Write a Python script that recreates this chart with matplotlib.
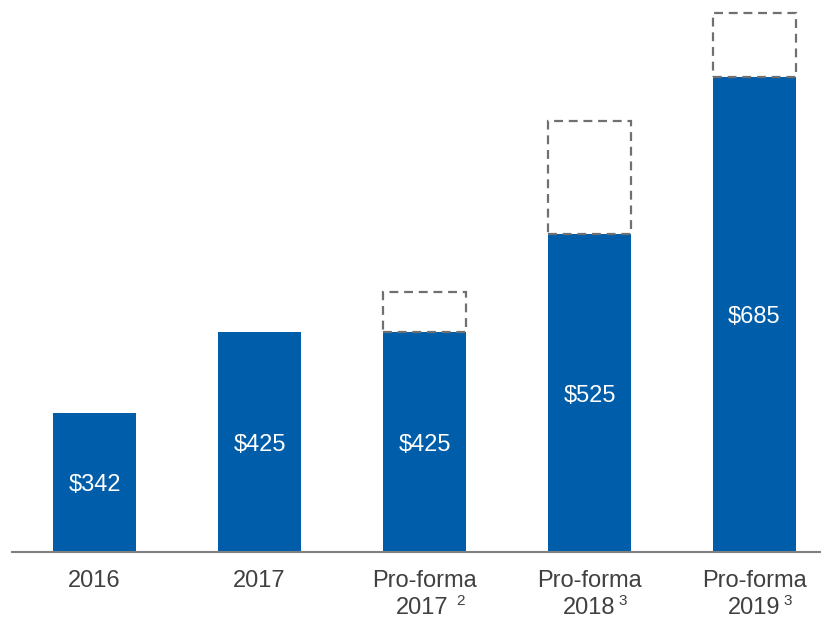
import matplotlib
matplotlib.use("Agg")
import matplotlib.pyplot as plt
import numpy as np

plt.rcParams['font.family'] = ['Liberation Sans', 'DejaVu Sans']

# data
line1 = ["2016", "2017", "Pro-forma", "Pro-forma", "Pro-forma"]
line2 = ["", "", "2017", "2018", "2019"]
notes = ["", "", "2", "3", "3"]
values = [342, 425, 425, 525, 685]
upside = [None, None, 465, 640, 750]

blue = "#005DAA"
grey_text = "#404040"

fig = plt.figure(figsize=(8.21, 6.2), dpi=100)
ax = fig.add_axes([12 / 821, 68 / 620, 809 / 821, 552 / 620])

x = np.arange(len(values))
bars = ax.bar(x, [v - 200 for v in values], bottom=200, width=0.503, color=blue, zorder=2)

# dashed boxes for upside
for i, (v, u) in enumerate(zip(values, upside)):
    if u is None:
        continue
    ax.bar(i, u - v, bottom=v, width=0.503, fill=False, edgecolor="#707070",
           linewidth=1.6, linestyle=(0, (4, 2.6)), zorder=3)

# value labels inside bars
for i, v in enumerate(values):
    ax.annotate(f"${v}", xy=(i, (200 + v) / 2), xytext=(0, -2),
                textcoords='offset points', ha="center", va="center",
                color="white", fontsize=17)

ax.set_xlim(-0.5, 4.403)
ax.set_ylim(200, 200 + 552 / 0.98)

# category labels under the axis
for i in range(len(values)):
    ax.annotate(line1[i], xy=(i, 0), xycoords=('data', 'axes fraction'),
                xytext=(0, -21), textcoords='offset points',
                ha="center", va="center", fontsize=17, color=grey_text)
    if line2[i]:
        dx = -2 if line2[i] == "2017" else 0
        ax.annotate(line2[i], xy=(i, 0), xycoords=('data', 'axes fraction'),
                    xytext=(dx, -40.5), textcoords='offset points',
                    ha="center", va="center", fontsize=17, color=grey_text)
        shift = 22.5 if line2[i] == "2017" else 20.5
        ax.annotate(notes[i], xy=(i, 0), xycoords=('data', 'axes fraction'),
                    xytext=(shift, -35), textcoords='offset points',
                    ha="left", va="center", fontsize=11, color=grey_text)

for s in ["top", "right", "left"]:
    ax.spines[s].set_visible(False)
ax.spines["bottom"].set_color("#808080")
ax.spines["bottom"].set_linewidth(1.5)
ax.set_xticks([])
ax.set_yticks([])

fig.savefig("out.png", dpi=100)
